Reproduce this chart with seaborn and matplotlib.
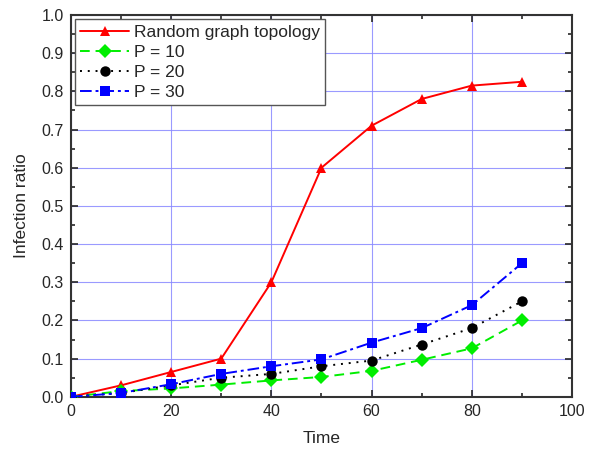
import numpy as np
import pandas as pd
import seaborn as sns
import matplotlib
matplotlib.use("Agg")
import matplotlib.pyplot as plt
from matplotlib.ticker import MultipleLocator

time = [0, 10, 20, 30, 40, 50, 60, 70, 80, 90]
random_graph = [0.0, 0.03, 0.065, 0.10, 0.30, 0.60, 0.71, 0.78, 0.815, 0.825]
p10 = [0.0, 0.015, 0.022, 0.032, 0.043, 0.052, 0.068, 0.097, 0.127, 0.20]
p20 = [0.0, 0.010, 0.030, 0.050, 0.060, 0.080, 0.095, 0.137, 0.180, 0.25]
p30 = [0.0, 0.010, 0.033, 0.060, 0.080, 0.098, 0.142, 0.180, 0.240, 0.35]
series_names = ["Random graph topology", "P = 10", "P = 20", "P = 30"]

df = pd.DataFrame({
    "Time": time * 4,
    "Infection ratio": random_graph + p10 + p20 + p30,
    "Series": sum([[n] * len(time) for n in series_names], []),
})

sns.set_style("ticks")
plt.rcParams['font.family'] = ['Liberation Sans', 'DejaVu Sans']

fig = plt.figure(figsize=(6.06, 4.53), dpi=100)
ax = fig.add_axes([0.117, 0.124, 0.827, 0.843])

palette = {"Random graph topology": "#ff0000", "P = 10": "#00ee00",
           "P = 20": "#000000", "P = 30": "#0000ff"}
markers = {"Random graph topology": "^", "P = 10": "D", "P = 20": "o", "P = 30": "s"}
dashes = {"Random graph topology": "", "P = 10": (5, 3), "P = 20": (1, 3),
          "P = 30": (6, 2, 1.5, 2)}

sns.lineplot(data=df, x="Time", y="Infection ratio", hue="Series", style="Series",
             palette=palette, markers=markers, dashes=dashes, markersize=7.5,
             markeredgewidth=0, linewidth=1.4, ax=ax, zorder=3)

ax.set_xlim(0, 100)
ax.set_ylim(0, 1.0)
ax.xaxis.set_major_locator(MultipleLocator(20))
ax.xaxis.set_minor_locator(MultipleLocator(10))
ax.yaxis.set_major_locator(MultipleLocator(0.1))
ax.yaxis.set_minor_locator(MultipleLocator(0.05))
ax.yaxis.set_major_formatter(matplotlib.ticker.FormatStrFormatter('%.1f'))
ax.grid(True, which='major', color='#8888ff', linewidth=0.8, alpha=0.85, zorder=0)
ax.set_axisbelow(True)
ax.tick_params(which='both', direction='in', top=True, right=True, labelsize=11.5)
ax.tick_params(which='major', length=5, width=1.2, pad=5)
ax.tick_params(which='minor', length=3, width=1.2)
for s in ax.spines.values():
    s.set_linewidth(1.5)
    s.set_color('#333333')
ax.set_xlabel("Time", fontsize=12.5, labelpad=9)
ax.set_ylabel("Infection ratio", fontsize=12.5, labelpad=9)

leg = ax.legend(loc='upper left', fontsize=12.5, frameon=True, fancybox=False,
                handlelength=2.8, borderpad=0.3, labelspacing=0.28,
                handletextpad=0.3, borderaxespad=0.25)
leg.get_frame().set_edgecolor('#555555')
leg.get_frame().set_alpha(1)
leg.set_title(None)

fig.savefig("out.png", dpi=100)
